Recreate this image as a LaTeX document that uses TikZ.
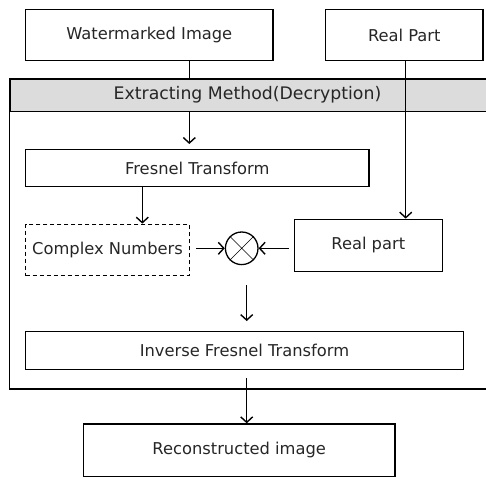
\documentclass[tikz,border=0pt]{standalone}
\usepackage{fontspec}
\setmainfont{DejaVu Sans}
\usetikzlibrary{arrows.meta,calc}
\definecolor{hdrgray}{RGB}{220,220,220}
\tikzset{
  x=1pt, y=-1pt,
  every node/.style={font=\fontsize{16.3}{19}\selectfont, text=black!85},
  box/.style={draw, line width=1.3pt, rectangle, inner sep=0pt, anchor=center},
  dbox/.style={box, dashed, dash pattern=on 4pt off 3pt},
  arr/.style={line width=1.3pt, -{Straight Barb[length=5.5pt,width=12pt,line width=1.4pt]}},
  ln/.style={line width=1.3pt}
}
\begin{document}
\begin{tikzpicture}
\useasboundingbox (0,0) rectangle (486,478);
% frame and header
\draw[ln] (500,79) -- (9.3,79) -- (9.3,389) -- (500,389);
\node[box, fill=hdrgray, minimum width=490.7pt, minimum height=32pt, anchor=north west] (hdr) at (9.3,79) {};
\node[font=\fontsize{17.3}{20}\selectfont] at (247.5,95) {Extracting Method(Decryption)};
% top boxes
\node[box, minimum width=247.3pt, minimum height=51.4pt] (wm) at (149.3,35) {Watermarked Image};
\node[box, minimum width=157.3pt, minimum height=51.4pt] (rp) at (404.3,35) {Real Part};
% inner boxes
\node[box, minimum width=343.3pt, minimum height=37.4pt] (fr) at (197.3,168) {Fresnel Transform};
\node[dbox, minimum width=163.6pt, minimum height=51.4pt] (cn) at (107.5,250) {Complex Numbers};
\node[draw, line width=1.3pt, circle, minimum size=32.6pt, inner sep=0pt] (mul) at (241.7,248.3) {};
\draw[line width=0.5pt] (mul.north west) -- (mul.south east) (mul.north east) -- (mul.south west);
\node[box, minimum width=148pt, minimum height=52.4pt] (re) at (368.3,245.5) {Real part};
\node[box, minimum width=437.6pt, minimum height=37.6pt] (inv) at (244.5,350.5) {Inverse Fresnel Transform};
\node[box, minimum width=311.7pt, minimum height=52.7pt] (rec) at (239.2,450.3) {Reconstructed image};
% connectors
\coordinate (wmout) at (189.3,60.7);
\draw[ln] (wmout) -- (wmout |- hdr.north);
\coordinate (frin) at (189.3,144);
\draw[arr] (frin |- hdr.south) -- (frin);
\draw[arr] (142.3,186.7) coordinate (fo) -- (fo |- cn.north);
\coordinate (rpout) at (405.7,60.7);
\draw[arr] (rpout) -- (rpout |- re.north);
\coordinate (cnr) at (196,248.3);
\draw[arr] (cnr) -- (mul.west);
\coordinate (rel) at (289,248.3);
\draw[arr] (rel) -- (mul.east);
\coordinate (ms) at (246.7,285);
\draw[arr] (ms) -- ($(ms |- inv.north)+(0,-10)$);
\coordinate (io) at (246.7,378.3);
\draw[arr] (io) -- (io |- rec.north);
\end{tikzpicture}
\end{document}
